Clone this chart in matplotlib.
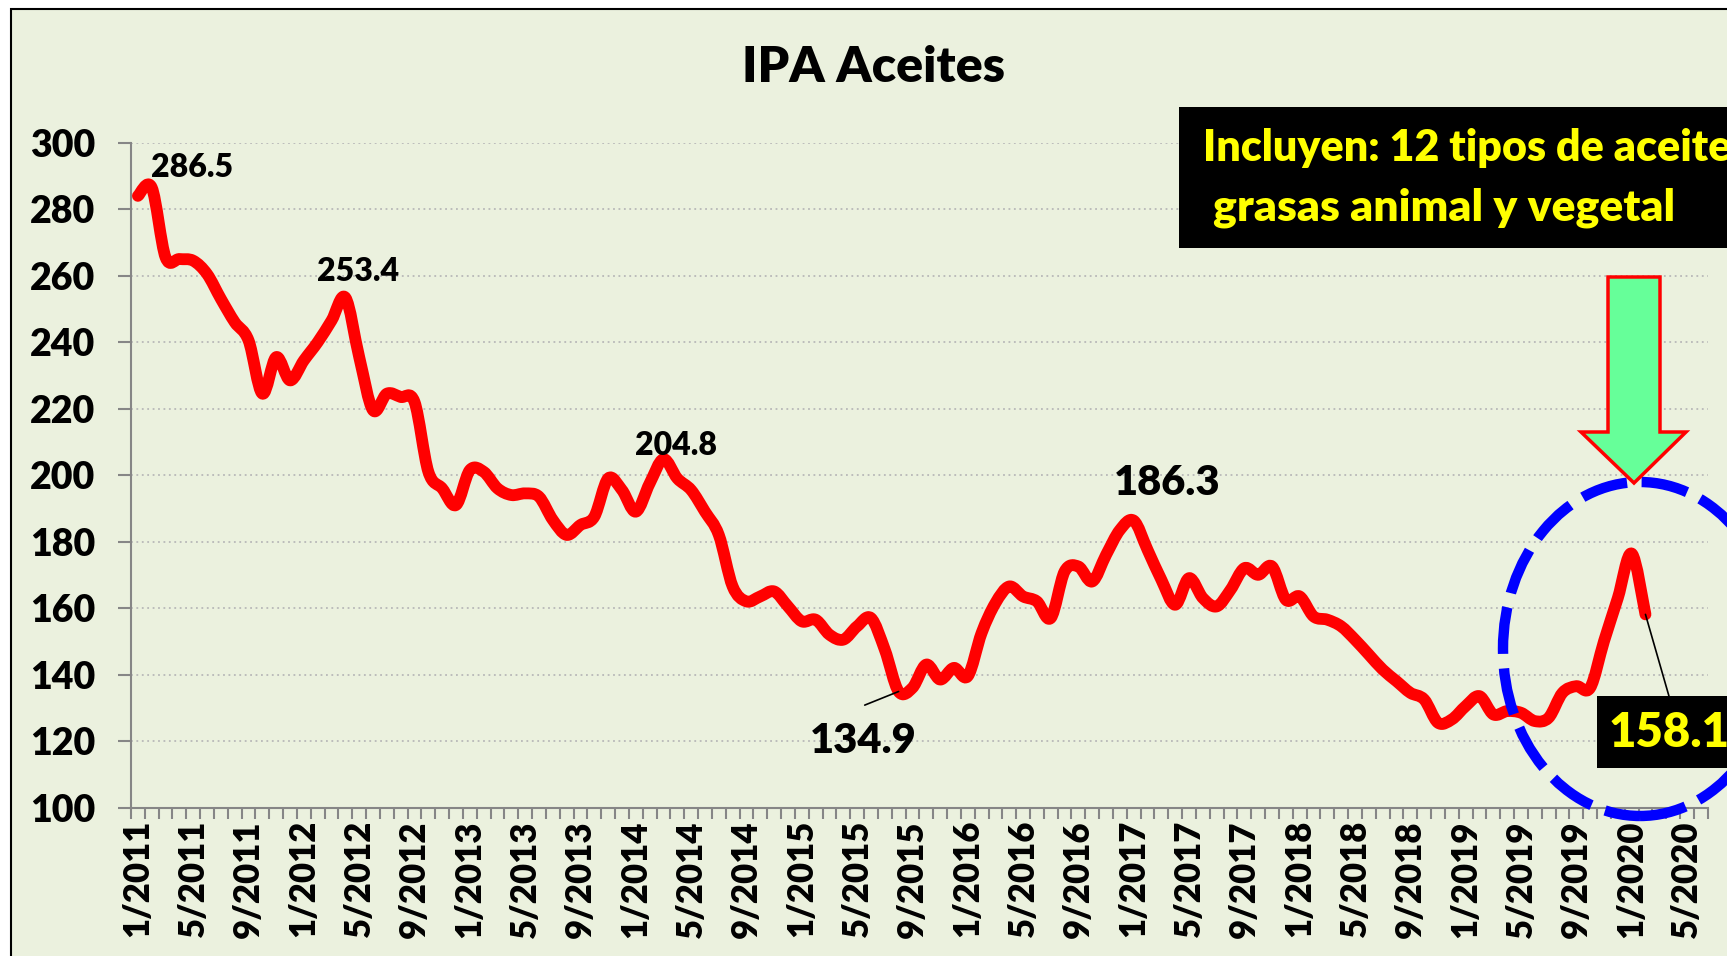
import matplotlib.pyplot as plt
import numpy as np
from matplotlib.patches import Ellipse, PathPatch, Polygon, Rectangle
from matplotlib.path import Path

W, H = 1727, 956
DPI = 100

# monthly categories on the axis: 1/2011 .. 6/2020
months = [f"{m}/{y}" for y in range(2011, 2021) for m in range(1, 13)][:114]

# IPA Aceites, 1/2011 .. 2/2020
ipa_aceites = [
    284.0, 286.5, 265.5, 265.0, 264.5, 260.5, 253.0, 246.0, 240.5, 224.5, 235.5, 228.5,
    234.5, 240.0, 246.5, 253.4, 235.5, 219.5, 224.5, 223.5, 222.0, 201.0, 196.0, 191.0,
    201.5, 201.0, 196.0, 194.0, 194.5, 193.5, 186.5, 182.0, 185.0, 187.5, 199.0, 195.5,
    189.0, 197.5, 204.8, 199.0, 195.5, 189.0, 182.0, 166.5, 162.0, 163.5, 165.0, 160.5,
    156.0, 156.5, 152.0, 150.5, 154.5, 157.0, 147.5, 134.9, 136.0, 143.0, 138.5, 142.0,
    139.5, 152.5, 161.5, 166.5, 163.5, 162.0, 157.0, 171.0, 172.5, 168.0, 176.0, 183.5,
    186.3, 177.5, 168.5, 161.0, 169.0, 163.0, 160.5, 165.5, 172.0, 170.0, 172.5, 162.5,
    163.5, 157.5, 156.5, 154.5, 150.5, 146.0, 141.5, 138.0, 134.5, 132.5, 125.5, 126.5,
    130.5, 133.5, 128.0, 129.0, 128.5, 126.0, 127.0, 134.5, 136.5, 136.0, 150.0, 163.0,
    176.4, 158.1,
]

y_ticks = list(range(100, 301, 20))
label_every = 4

BG = "#EBF1DE"
GRAY = "#868686"

plt.rcParams["font.family"] = ["Lato", "DejaVu Sans"]
plt.rcParams["font.weight"] = "heavy"


def fx(px):
    return px / W


def fy(py):
    return 1 - py / H


def smooth_path(xs, ys):
    # excel-like smoothed line: cubic bezier through every data point
    pts = np.column_stack([xs, ys]).astype(float)
    n = len(pts)
    verts, codes = [pts[0]], [Path.MOVETO]
    for i in range(n - 1):
        p0 = pts[max(i - 1, 0)]
        p1, p2 = pts[i], pts[i + 1]
        p3 = pts[min(i + 2, n - 1)]
        verts += [p1 + (p2 - p0) / 6, p2 - (p3 - p1) / 6, p2]
        codes += [Path.CURVE4] * 3
    return Path(verts, codes)


fig = plt.figure(figsize=(W / DPI, H / DPI), dpi=DPI, facecolor="white")

# outer chart area (cropped on the right and bottom)
fig.patches.append(Rectangle((fx(11), -0.05), 1.1, fy(9) + 0.05, transform=fig.transFigure,
                             facecolor=BG, edgecolor="black", lw=1.5, zorder=-10))

ax = fig.add_axes([fx(131), fy(807.5), fx(1707.7) - fx(131), fy(142.7) - fy(807.5)])
ax.patch.set_alpha(0)

x = np.arange(len(ipa_aceites))
ax.add_patch(PathPatch(smooth_path(x, ipa_aceites), fill=False, edgecolor="#FF0000",
                       lw=8.5, capstyle="round", joinstyle="round", zorder=3))

ax.set_xlim(-0.5, len(months) - 0.5)
ax.set_ylim(y_ticks[0], y_ticks[-1])

ax.set_yticks(y_ticks)
ax.tick_params(axis="y", length=9.5, width=1.5, color=GRAY, pad=16, labelsize=27)
ax.set_xticks(np.arange(0, len(months), label_every))
ax.set_xticklabels(months[::label_every], rotation=90)
ax.tick_params(axis="x", which="major", length=0, pad=9, labelsize=25)
ax.set_xticks(np.arange(-0.5, len(months), 1), minor=True)
ax.tick_params(axis="x", which="minor", length=8, width=1.5, color=GRAY)

for s in ["top", "right"]:
    ax.spines[s].set_visible(False)
for s in ["left", "bottom"]:
    ax.spines[s].set_color(GRAY)
    ax.spines[s].set_linewidth(1.5)

ax.yaxis.grid(True, color="#B8B8B8", linestyle=(0, (1, 2)), lw=1.3)
ax.set_axisbelow(True)

# data labels
ax.text(0.95, 292.5, "286.5", ha="left", va="center", fontsize=23)
ax.text(15.9, 261.3, "253.4", ha="center", va="center", fontsize=23)
ax.text(38.9, 208.9, "204.8", ha="center", va="center", fontsize=23)
ax.text(74.4, 197.7, "186.3", ha="center", va="center", fontsize=30)
ax.text(52.46, 120.0, "134.9", ha="center", va="center", fontsize=30)
ax.annotate("", xy=(55, 134.9), xytext=(52.55, 130.8),
            arrowprops=dict(arrowstyle="-", lw=1.2, color="black", shrinkA=0, shrinkB=0))
ax.annotate("", xy=(109, 158.1), xytext=(110.7, 133.5),
            arrowprops=dict(arrowstyle="-", lw=1.2, color="black", shrinkA=0, shrinkB=0),
            annotation_clip=False)

fig.text(fx(873.5), fy(67), "IPA Aceites", ha="center", va="center", fontsize=36)

# note box
fig.patches.append(Rectangle((fx(1178.5), fy(247.8)), 0.4, fy(106.8) - fy(247.8),
                             transform=fig.transFigure, facecolor="black", zorder=5))
fig.text(fx(1202.7), fy(148), "Incluyen: 12 tipos de aceites y", ha="left", va="center",
         fontsize=31, color="#FFFF00", zorder=6)
fig.text(fx(1212.6), fy(208), "grasas animal y vegetal", ha="left", va="center",
         fontsize=32, color="#FFFF00", zorder=6)

# dashed circle around the last months
fig.patches.append(Ellipse((fx(1640), fy(649)), 2 * 137 / W, 2 * 167 / H,
                           transform=fig.transFigure, fill=False, edgecolor="#0000FF",
                           lw=7.5, linestyle=(0, (4.5, 1.4)), zorder=4))

# green arrow
arrow_px = [(1608, 277), (1660, 277), (1660, 432), (1686, 432), (1634, 483),
            (1581, 432), (1608, 432)]
fig.patches.append(Polygon([(fx(a), fy(b)) for a, b in arrow_px], closed=True,
                           transform=fig.transFigure, facecolor="#66FF99",
                           edgecolor="#FF0000", lw=2.5, zorder=5))

# last value box
fig.patches.append(Rectangle((fx(1597), fy(768)), 0.2, fy(696) - fy(768),
                             transform=fig.transFigure, facecolor="black", zorder=5))
fig.text(fx(1609), fy(733), "158.1", ha="left", va="center", fontsize=34,
         color="#FFFF00", zorder=6)

fig.savefig("out.png", dpi=DPI, facecolor="white")
